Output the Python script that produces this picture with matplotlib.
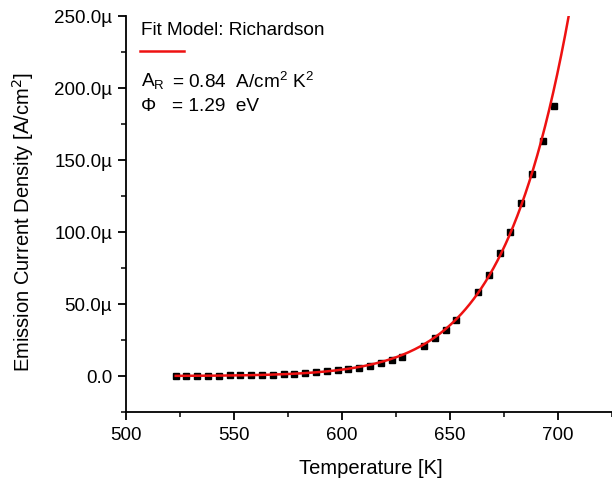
import numpy as np
import matplotlib
matplotlib.use("Agg")
import matplotlib.pyplot as plt
from matplotlib.ticker import FuncFormatter, MultipleLocator
from matplotlib.lines import Line2D

plt.rcParams['font.family'] = ['Liberation Sans', 'DejaVu Sans']

# Measured data (temperature in K, current density in µA/cm²)
temperature = [523, 528, 533, 538, 543, 548, 553, 558, 563, 568, 573, 578,
               583, 588, 593, 598, 603, 608, 613, 618, 623, 628,
               638, 643, 648, 653, 663, 668, 673, 678, 683, 688, 693, 698]
current_uA = [0.1, 0.1, 0.2, 0.2, 0.3, 0.4, 0.5, 0.6, 0.8, 1.0, 1.3, 1.6,
              2.1, 2.6, 3.3, 4.0, 4.7, 5.6, 6.7, 8.8, 10.9, 13.4,
              21.0, 26.2, 32.1, 39.1, 58.1, 70.1, 85.4, 100.2, 120.1, 140.3, 163.4, 187.3]

# Richardson fit parameters shown on the chart
A_R = 0.84      # A/cm^2 K^2
PHI = 1.29      # eV
K_B = 8.617e-5  # eV/K
fit_T_range = (523, 707)

x_ticks = [500, 550, 600, 650, 700]
y_ticks_uA = [0, 50, 100, 150, 200, 250]

RED = '#ee1111'

fig = plt.figure(figsize=(6.12, 4.81), dpi=100)
ax = fig.add_axes([0.2059, 0.1414, 1.0 - 0.2059, 0.9647 - 0.1414])

T_fit = np.linspace(fit_T_range[0], fit_T_range[1], 400)
J_fit = A_R * T_fit**2 * np.exp(-PHI / (K_B * T_fit))

ax.plot(np.array(temperature), np.array(current_uA) * 1e-6, 's', color='black',
        markersize=4.6, zorder=2)
ax.plot(T_fit, J_fit, '-', color=RED, lw=1.8, zorder=3)

ax.set_xlim(500, 725)
ax.set_ylim(-25e-6, 250e-6)
ax.set_xticks(x_ticks)
ax.set_yticks([v * 1e-6 for v in y_ticks_uA])
ax.xaxis.set_minor_locator(MultipleLocator(25))
ax.yaxis.set_minor_locator(MultipleLocator(25e-6))

def yfmt(v, pos):
    u = v * 1e6
    if abs(u) < 1e-9:
        return "0.0"
    return f"{u:.1f}\u00b5"

ax.yaxis.set_major_formatter(FuncFormatter(yfmt))

for s in ['top', 'right']:
    ax.spines[s].set_visible(False)
for s in ['left', 'bottom']:
    ax.spines[s].set_linewidth(1.3)

ax.tick_params(which='major', direction='out', length=6, width=1.3, labelsize=13.5, pad=4)
ax.tick_params(which='minor', direction='out', length=3.5, width=1.1)

ax.set_xlabel("Temperature [K]", fontsize=14.5)
ax.set_ylabel("Emission Current Density [A/cm$^2$]", fontsize=14.5)
ax.xaxis.set_label_coords(0.504, -0.139)
ax.yaxis.set_label_coords(-0.212, 0.482)
ax.xaxis.label.set_va('center')
ax.yaxis.label.set_va('center')

# Legend / annotation block
ax.text(0.031, 0.967, "Fit Model: Richardson", transform=ax.transAxes,
        fontsize=13.7, va='center', ha='left')
ax.add_line(Line2D([0.028, 0.119], [0.912, 0.912], transform=ax.transAxes,
                   color=RED, lw=1.8))
ax.text(0.031, 0.836, r"A$_{\mathregular{R}}$", transform=ax.transAxes,
        fontsize=13.7, va='center', ha='left')
ax.text(0.094, 0.836, r"= 0.84  A/cm$^{\mathregular{2}}$ K$^{\mathregular{2}}$",
        transform=ax.transAxes, fontsize=13.7, va='center', ha='left')
ax.text(0.031, 0.773, "\u03a6", transform=ax.transAxes,
        fontsize=13.7, va='center', ha='left')
ax.text(0.094, 0.773, "= 1.29  eV", transform=ax.transAxes,
        fontsize=13.7, va='center', ha='left')

fig.savefig("out.png", dpi=100)
